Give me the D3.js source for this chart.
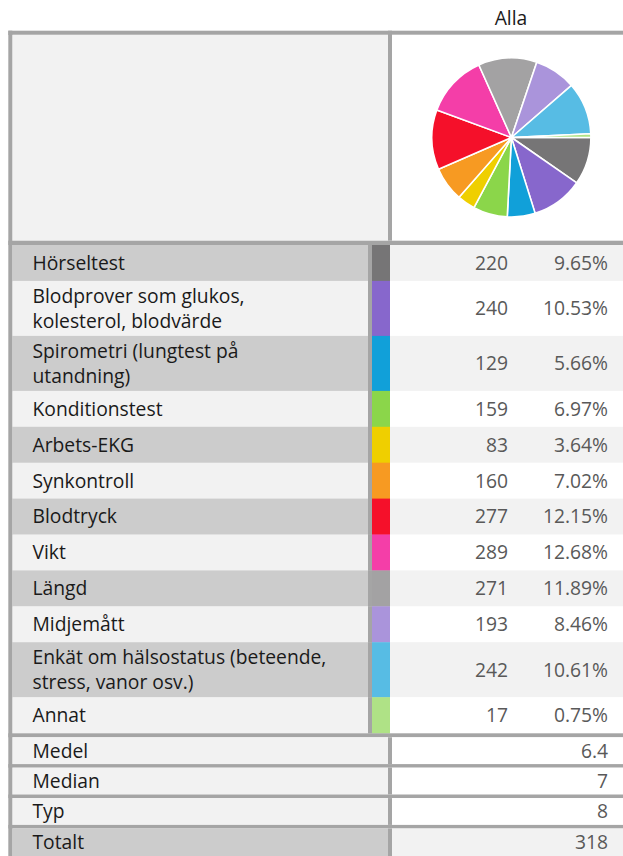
<!DOCTYPE html>
<html>
<head>
<meta charset="utf-8">
<script src="https://cdn.jsdelivr.net/npm/d3@7"></script>
<style>
  html, body { margin: 0; padding: 0; background: #ffffff; }
  svg { display: block; }
  text { font-family: 'Open Sans', 'Noto Sans', sans-serif; }
</style>
</head>
<body>
<svg id="chart" width="623" height="856"></svg>
<script>
// ---- data ----
const columnTitle = "Alla";
const categories = [
  "Hörseltest",
  "Blodprover som glukos,\nkolesterol, blodvärde",
  "Spirometri (lungtest på\nutandning)",
  "Konditionstest",
  "Arbets-EKG",
  "Synkontroll",
  "Blodtryck",
  "Vikt",
  "Längd",
  "Midjemått",
  "Enkät om hälsostatus (beteende,\nstress, vanor osv.)",
  "Annat"
];
const counts = [220, 240, 129, 159, 83, 160, 277, 289, 271, 193, 242, 17];
const percents = [9.65, 10.53, 5.66, 6.97, 3.64, 7.02, 12.15, 12.68, 11.89, 8.46, 10.61, 0.75];
const colors = ["#767576", "#8767cc", "#11a0d9", "#8bd64a", "#efcf00", "#f79a22",
                "#f5102a", "#f43ea8", "#a3a2a3", "#aa94db", "#57bce4", "#afe286"];
const summaryLabels = ["Medel", "Median", "Typ", "Totalt"];
const summaryValues = ["6.4", "7", "8", "318"];

// ---- layout ----
const svg = d3.select("#chart");
const W = 623;
const borderC = "#a5a5a5";
const fs = 19.3;
const capOff = 6.9;
const leftX = 8.3, bw = 4;
const topY = 30.7;
const headBottom = 240.7;
const labelX = 32.5;
const labelEnd = 368, swatchX = 372, swatchEnd = 390;
const divX = 388, divEnd = 392;
const countRight = 508, pctRight = 608;
const singleH = 35.9, doubleH = 55;

// title
svg.append("text").attr("x", 511).attr("y", 24.5).attr("text-anchor", "middle")
  .attr("font-size", fs).attr("fill", "#1a1a1a").text(columnTitle);

// outer top border
svg.append("rect").attr("x", leftX).attr("y", topY).attr("width", W - leftX).attr("height", bw + 0.3).attr("fill", borderC);
// header cells
svg.append("rect").attr("x", leftX + bw).attr("y", topY + bw).attr("width", divX - leftX - bw).attr("height", headBottom - topY - bw).attr("fill", "#f2f2f2");
svg.append("rect").attr("x", divX).attr("y", topY).attr("width", divEnd - divX).attr("height", headBottom - topY).attr("fill", borderC);
svg.append("rect").attr("x", divEnd).attr("y", topY + bw).attr("width", W - divEnd).attr("height", headBottom - topY - bw).attr("fill", "#ffffff");
// header bottom border
svg.append("rect").attr("x", leftX).attr("y", headBottom).attr("width", W - leftX).attr("height", 4.3).attr("fill", borderC);

// pie
const cx = 511.4, cy = 137.5, R = 79.5;
const pie = d3.pie().sort(null).value(d => d).startAngle(Math.PI / 2).endAngle(Math.PI / 2 + 2 * Math.PI);
const arc = d3.arc().innerRadius(0).outerRadius(R);
const color = d3.scaleOrdinal().domain(d3.range(categories.length)).range(colors);
svg.append("g").attr("transform", `translate(${cx},${cy})`)
  .selectAll("path").data(pie(counts)).join("path")
  .attr("d", arc)
  .attr("fill", (d, i) => color(i))
  .attr("stroke", "#ffffff").attr("stroke-width", 1.6).attr("stroke-linejoin", "round");

// data rows
const fmtPct = v => d3.format(".2f")(v) + "%";
let y = 245;
const rowsG = svg.append("g");
categories.forEach((cat, i) => {
  const lines = cat.split("\n");
  const h = lines.length > 1 ? doubleH : singleH;
  const odd = i % 2 === 0;
  const g = rowsG.append("g");
  g.append("rect").attr("x", leftX + bw).attr("y", y).attr("width", labelEnd - leftX - bw).attr("height", h + 0.4)
    .attr("fill", odd ? "#cccccc" : "#f2f2f2");
  g.append("rect").attr("x", labelEnd).attr("y", y).attr("width", swatchX - labelEnd).attr("height", h + 0.4).attr("fill", borderC);
  g.append("rect").attr("x", swatchX).attr("y", y).attr("width", swatchEnd - swatchX).attr("height", h + 0.4).attr("fill", color(i));
  g.append("rect").attr("x", swatchEnd).attr("y", y).attr("width", W - swatchEnd).attr("height", h + 0.4)
    .attr("fill", odd ? "#f2f2f2" : "#ffffff");
  const cyRow = y + h / 2;
  const t = g.append("text").attr("font-size", fs).attr("fill", "#1a1a1a");
  lines.forEach((ln, k) => {
    const off = lines.length > 1 ? (k === 0 ? -12.8 : 12.8) : 0;
    t.append("tspan").attr("x", labelX).attr("y", cyRow + off + capOff).text(ln);
  });
  g.append("text").attr("x", countRight).attr("y", cyRow + capOff).attr("text-anchor", "end")
    .attr("font-size", fs).attr("fill", "#595959").text(counts[i]);
  g.append("text").attr("x", pctRight).attr("y", cyRow + capOff).attr("text-anchor", "end")
    .attr("font-size", fs).attr("fill", "#595959").text(fmtPct(percents[i]));
  y += h;
});

// summary rows
const sumTop = 733.3;
svg.append("rect").attr("x", leftX).attr("y", sumTop).attr("width", W - leftX).attr("height", 4).attr("fill", borderC);
const sumH = 26.8, sumB = 3.6;
let sy = sumTop + 4;
summaryLabels.forEach((lab, i) => {
  const isTotal = i === summaryLabels.length - 1;
  const h = isTotal ? 856 - sy : sumH;
  svg.append("rect").attr("x", leftX + bw).attr("y", sy).attr("width", divX - leftX - bw).attr("height", h)
    .attr("fill", isTotal ? "#cccccc" : "#f2f2f2");
  svg.append("rect").attr("x", divX).attr("y", sy).attr("width", divEnd - divX).attr("height", h).attr("fill", borderC);
  svg.append("rect").attr("x", divEnd).attr("y", sy).attr("width", W - divEnd).attr("height", h)
    .attr("fill", isTotal ? "#f2f2f2" : "#ffffff");
  const c = sy + sumH / 2;
  svg.append("text").attr("x", labelX).attr("y", c + capOff).attr("font-size", fs).attr("fill", "#1a1a1a").text(lab);
  svg.append("text").attr("x", pctRight).attr("y", c + capOff).attr("text-anchor", "end")
    .attr("font-size", fs).attr("fill", "#595959").text(summaryValues[i]);
  if (!isTotal) {
    svg.append("rect").attr("x", leftX).attr("y", sy + sumH).attr("width", W - leftX).attr("height", sumB).attr("fill", borderC);
  }
  sy += sumH + sumB;
});

svg.append("rect").attr("x", leftX).attr("y", topY).attr("width", bw).attr("height", 856 - topY).attr("fill", borderC);
</script>
</body>
</html>
